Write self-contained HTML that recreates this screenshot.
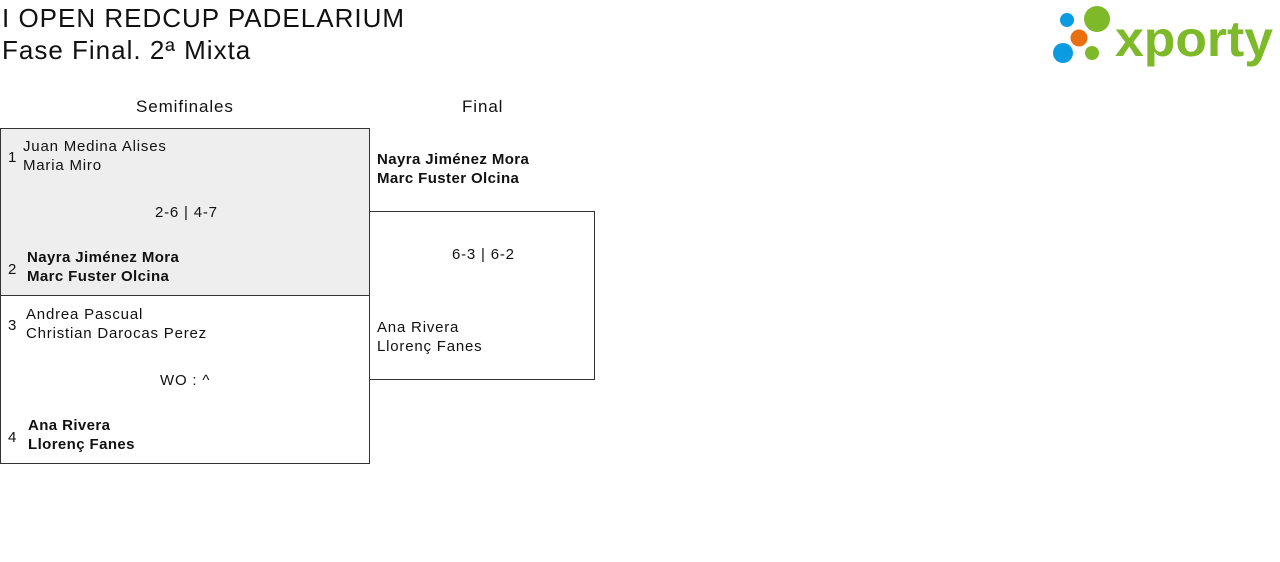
<!DOCTYPE html>
<html><head><meta charset="utf-8"><style>
body{margin:0;width:1280px;height:562px;background:#fff;font-family:"Liberation Sans","DejaVu Sans",sans-serif;color:#111;position:relative;overflow:hidden}
.a{position:absolute;white-space:nowrap}
.t{font-size:26px;line-height:32px;letter-spacing:1px}
.h{font-size:17px;letter-spacing:0.9px}
.s{font-size:15px;line-height:19px;letter-spacing:0.8px}
.b{font-weight:bold;letter-spacing:0.4px}
.box{position:absolute;border:1px solid #333;box-sizing:border-box}
</style></head><body>
<div class="a t" style="left:2px;top:2px">I OPEN REDCUP PADELARIUM</div>
<div class="a t" style="left:2px;top:34px">Fase Final. 2ª Mixta</div>
<svg class="a" style="left:1050px;top:3px" width="230" height="64">
<circle cx="17" cy="17" r="7" fill="#0a9be0"/>
<circle cx="47" cy="16" r="13" fill="#7db928"/>
<circle cx="29" cy="35" r="8.5" fill="#e8700e"/>
<circle cx="13" cy="50" r="10" fill="#0a9be0"/>
<circle cx="42" cy="50" r="7" fill="#7db928"/>
<text x="65" y="53" font-family="Liberation Sans, sans-serif" font-weight="bold" font-size="50" fill="#7db928" textLength="158" lengthAdjust="spacingAndGlyphs">xporty</text>
</svg>
<div class="a h" style="left:136px;top:97px">Semifinales</div>
<div class="a h" style="left:462px;top:97px">Final</div>
<div class="box" style="left:0;top:128px;width:370px;height:168px;background:#eee"></div>
<div class="box" style="left:0;top:295px;width:370px;height:169px"></div>
<div class="box" style="left:369px;top:211px;width:226px;height:169px"></div>
<div class="a s" style="left:8px;top:148px">1</div>
<div class="a s" style="left:23px;top:137px">Juan Medina Alises<br>Maria Miro</div>
<div class="a s" style="left:155px;top:203px">2-6 | 4-7</div>
<div class="a s" style="left:8px;top:260px">2</div>
<div class="a s b" style="left:27px;top:248px">Nayra Jiménez Mora<br>Marc Fuster Olcina</div>
<div class="a s" style="left:8px;top:316px">3</div>
<div class="a s" style="left:26px;top:305px">Andrea Pascual<br>Christian Darocas Perez</div>
<div class="a s" style="left:160px;top:371px">WO : ^</div>
<div class="a s" style="left:8px;top:428px">4</div>
<div class="a s b" style="left:28px;top:416px">Ana Rivera<br>Llorenç Fanes</div>
<div class="a s b" style="left:377px;top:150px">Nayra Jiménez Mora<br>Marc Fuster Olcina</div>
<div class="a s" style="left:452px;top:245px">6-3 | 6-2</div>
<div class="a s" style="left:377px;top:318px">Ana Rivera<br>Llorenç Fanes</div>
</body></html>
